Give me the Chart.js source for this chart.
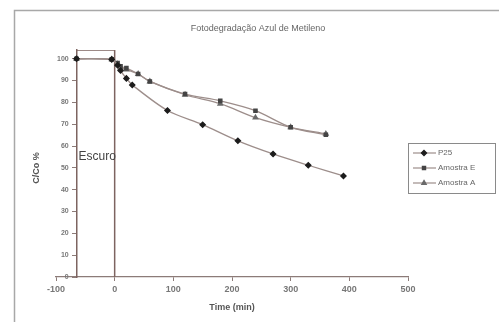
<!DOCTYPE html>
<html>
<head>
<meta charset="utf-8">
<script src="https://cdn.jsdelivr.net/npm/chart.js@4/dist/chart.umd.min.js"></script>
<style>
html, body { margin: 0; padding: 0; background: #fff; }
#wrap { width: 499px; height: 322px; }
</style>
</head>
<body>
<div id="wrap"><canvas id="chart"></canvas></div>
<script>
// data
const seriesNames = ['P25', 'Amostra E', 'Amostra A'];
const p25Time = [-65, -5, 5, 10, 20, 30, 90, 150, 210, 270, 330, 390];
const p25Values = [100, 99.7, 97, 94.6, 91, 88, 76.3, 69.8, 62.4, 56.4, 51.2, 46.3];
const amostraETime = [-65, -5, 5, 10, 20, 40, 60, 120, 180, 240, 300, 360];
const amostraEValues = [100, 99.7, 98, 96.5, 95.7, 93, 89.6, 83.8, 80.7, 76.2, 68.6, 65.2];
const amostraATime = [-65, -5, 5, 10, 20, 40, 60, 120, 180, 240, 300, 360];
const amostraAValues = [100, 99.7, 97.5, 96, 95, 93, 89.6, 83.5, 79.4, 73, 68.6, 65.6];
const darkBoxTime = [-65, 0, 0];
const darkBoxValues = [104, 104, 0];
const xTicks = [-100, 0, 100, 200, 300, 400, 500];
const yTicks = [0, 10, 20, 30, 40, 50, 60, 70, 80, 90, 100];

const axisColor = '#8c7b78';
const lineColor = '#9d8e8b';

function toPoints(xs, ys) {
	return xs.map((x, i) => ({x: x, y: ys[i]}));
}

const decorations = {
	id: 'decorations',
	beforeDraw(chart) {
		const ctx = chart.ctx;
		ctx.save();
		ctx.fillStyle = '#fff';
		ctx.fillRect(0, 0, chart.width, chart.height);
		ctx.strokeStyle = '#a8a8a8';
		ctx.lineWidth = 1.5;
		ctx.beginPath();
		ctx.moveTo(14.5, chart.height);
		ctx.lineTo(14.5, 10.5);
		ctx.lineTo(chart.width, 10.5);
		ctx.stroke();
		ctx.restore();
	},
	afterDraw(chart) {
		const ctx = chart.ctx;
		const xs = chart.scales.x, ys = chart.scales.y;
		ctx.save();
		// title
		ctx.fillStyle = '#666';
		ctx.font = '9px "Liberation Sans", Arial, sans-serif';
		ctx.textAlign = 'center';
		ctx.textBaseline = 'middle';
		ctx.fillText('Fotodegradação Azul de Metileno', 258, 29);
		// y title
		ctx.save();
		ctx.translate(37, 168);
		ctx.rotate(-Math.PI / 2);
		ctx.fillStyle = '#555';
		ctx.font = 'bold 9px "Liberation Sans", Arial, sans-serif';
		ctx.fillText('C/Co %', 0, 0);
		ctx.restore();
		// Escuro
		ctx.fillStyle = '#444';
		ctx.font = '12px "Liberation Sans", Arial, sans-serif';
		ctx.textAlign = 'left';
		ctx.fillText('Escuro', xs.getPixelForValue(-65) + 2, ys.getPixelForValue(55));
		// legend
		ctx.strokeStyle = '#8a8a8a';
		ctx.lineWidth = 1;
		ctx.strokeRect(408.5, 143.5, 87, 50);
		const rows = [153, 168, 183];
		chart.data.datasets.slice(0, 3).forEach((ds, i) => {
			const y = rows[i];
			ctx.strokeStyle = ds.borderColor;
			ctx.lineWidth = 1.2;
			ctx.beginPath();
			ctx.moveTo(413, y);
			ctx.lineTo(436, y);
			ctx.stroke();
			ctx.fillStyle = ds.pointBackgroundColor;
			ctx.strokeStyle = ds.pointBorderColor;
			Chart.helpers.drawPoint(ctx, {
				pointStyle: ds.pointStyle,
				radius: ds.pointRadius,
				rotation: 0,
				borderWidth: 1
			}, 424, y);
			ctx.fillStyle = '#666';
			ctx.font = '8px "Liberation Sans", Arial, sans-serif';
			ctx.textAlign = 'left';
			ctx.fillText(seriesNames[i], 438, y);
		});
		ctx.restore();
	}
};

new Chart(document.getElementById('chart'), {
	type: 'scatter',
	data: {
		datasets: [{
			label: seriesNames[0],
			data: toPoints(p25Time, p25Values),
			showLine: true,
			tension: 0.3,
			borderColor: lineColor,
			borderWidth: 1.3,
			pointStyle: 'rectRot',
			pointRadius: 2.6,
			pointBackgroundColor: '#1c1c1c',
			pointBorderColor: '#1c1c1c',
		}, {
			label: seriesNames[1],
			data: toPoints(amostraETime, amostraEValues),
			showLine: true,
			tension: 0.3,
			borderColor: lineColor,
			borderWidth: 1.3,
			pointStyle: 'rect',
			pointRadius: 2.3,
			pointBackgroundColor: '#444',
			pointBorderColor: '#444',
		}, {
			label: seriesNames[2],
			data: toPoints(amostraATime, amostraAValues),
			showLine: true,
			tension: 0.3,
			borderColor: lineColor,
			borderWidth: 1.3,
			pointStyle: 'triangle',
			pointRadius: 2.6,
			pointBackgroundColor: '#6a6a6a',
			pointBorderColor: '#6a6a6a',
		}, {
			label: 'Escuro',
			data: toPoints(darkBoxTime, darkBoxValues),
			showLine: true,
			tension: 0,
			borderColor: '#7d6460',
			borderWidth: 1.5,
			pointRadius: 0,
		}]
	},
	options: {
		responsive: true,
		maintainAspectRatio: false,
		animation: false,
		layout: {
			padding: {left: 56, right: 91, top: 50, bottom: 0}
		},
		plugins: {
			legend: {display: false},
			title: {display: false},
			tooltip: {enabled: false}
		},
		scales: {
			x: {
				type: 'linear',
				min: -100,
				max: 500,
				afterBuildTicks: (scale) => { scale.ticks = xTicks.map(v => ({value: v})); },
				afterFit: (scale) => { scale.height = 45; },
				ticks: {
					color: '#777',
					font: {family: '"Liberation Sans", Arial, sans-serif', size: 9, weight: 'bold'},
					padding: 3
				},
				grid: {drawOnChartArea: false, color: axisColor, tickLength: 4},
				border: {color: axisColor, width: 1.3},
				title: {
					display: true,
					text: 'Time (min)',
					color: '#555',
					font: {family: '"Liberation Sans", Arial, sans-serif', size: 9, weight: 'bold'},
					padding: {top: 4, bottom: 9}
				}
			},
			y: {
				type: 'linear',
				position: {x: -65},
				min: 0,
				max: 104,
				afterBuildTicks: (scale) => { scale.ticks = yTicks.map(v => ({value: v})); },
				ticks: {
					color: '#777',
					font: {family: '"Liberation Sans", Arial, sans-serif', size: 7, weight: 'bold'},
					// labels sit right on the axis when it is placed by value, so pad them
					callback: (v) => v + '    '
				},
				grid: {drawOnChartArea: false, color: axisColor, tickLength: 4},
				border: {color: '#7d6460', width: 1.5}
			}
		}
	},
	plugins: [decorations]
});
</script>
</body>
</html>
